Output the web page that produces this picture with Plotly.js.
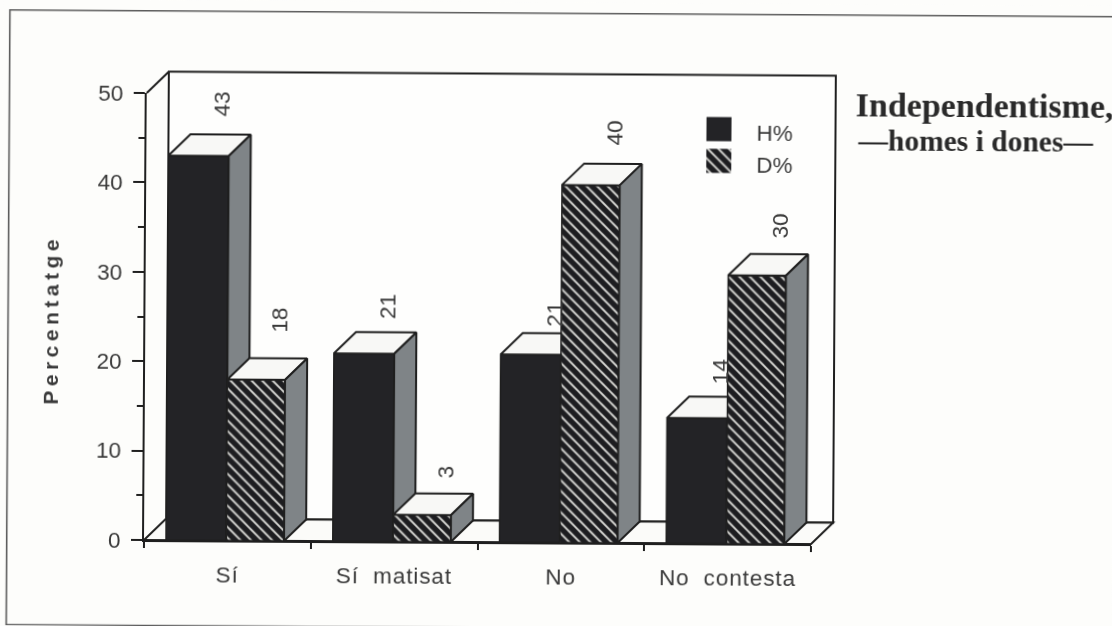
<!DOCTYPE html>
<html><head><meta charset="utf-8">
<script src="https://cdn.plot.ly/plotly-3.0.1.min.js"></script>
<style>
html,body{margin:0;padding:0;width:1112px;height:626px;overflow:hidden;background:#fdfdfb}
#chart{width:1112px;height:626px;transform-origin:144px 540px;transform:rotate(0.35deg);filter:blur(0.45px)}
.xtick text{letter-spacing:0.9px;word-spacing:7px}
</style></head><body><div id="chart"></div>
<script>
// Data
const categories = ["Sí", "Sí matisat", "No", "No contesta"];
const seriesH = [43, 21, 21, 14];
const seriesD = [18, 3, 40, 30];
const nameH = "H%", nameD = "D%";
const yTicks = [0, 10, 20, 30, 40, 50];
const titleMain = "Independentisme,";
const titleSub = "—homes i dones—";
const yTitle = "Percentatge";

// Layout constants (pixels of the front plane)
const L = 144, T = 93, R = 811, B = 540;
const W = R - L, H = B - T;
const pxPerX = W / 4, pxPerY = H / 50;
const depthX = 22 / pxPerX, depthY = 21.5 / pxPerY;
const barStart = 0.132, widthH = 0.362, widthD = 0.346;
const ink = "#1f1f1f", dark = "#232326", sideGrey = "#7f8487", topWhite = "#f8f8f6";
const pattern = {shape: "\\", fgcolor: "#dcdcd8", bgcolor: "#1d1d20", size: 7.5, solidity: 0.25};
const liftH = [52, 47, 40, 47], liftD = [60, 43, 52, 50];

const xH = categories.map((c, i) => i + barStart + widthH / 2);
const xD = categories.map((c, i) => i + barStart + widthH + widthD / 2);
const px = v => (v - L) / W, py = v => (B - v) / H;

function faces(xc, w, vals, ax, ay) {
  const out = [];
  vals.forEach((v, i) => {
    const a = xc[i] - w / 2, b = xc[i] + w / 2;
    out.push({type: "scatter", mode: "lines", xaxis: ax, yaxis: ay, cliponaxis: false, hoverinfo: "skip", showlegend: false,
      x: [a, a + depthX, b + depthX, b, a], y: [v, v + depthY, v + depthY, v, v],
      fill: "toself", fillcolor: topWhite, line: {color: ink, width: 2}});
    out.push({type: "scatter", mode: "lines", xaxis: ax, yaxis: ay, cliponaxis: false, hoverinfo: "skip", showlegend: false,
      x: [b, b + depthX, b + depthX, b, b], y: [v, v + depthY, depthY, 0, v],
      fill: "toself", fillcolor: sideGrey, line: {color: ink, width: 2}});
  });
  return out;
}

const barLine = {color: ink, width: 1.5};
const traces = [
  {type: "bar", name: nameH, x: xH, y: seriesH, width: widthH, marker: {color: dark, line: barLine}, cliponaxis: false},
  {type: "bar", name: nameH + " llegenda", x: [3.433], y: [2.7], base: [45.0], width: 0.15, marker: {color: dark, line: {color: dark, width: 0}}, hoverinfo: "skip"},
  ...faces(xH, widthH, seriesH, "x", "y"),
  {type: "bar", name: nameD, xaxis: "x2", yaxis: "y2", x: xD, y: seriesD, width: widthD, marker: {color: "#1d1d20", pattern: pattern, line: barLine}, cliponaxis: false},
  {type: "bar", name: nameD + " llegenda", xaxis: "x2", yaxis: "y2", x: [3.433], y: [2.7], base: [41.45], width: 0.15, marker: {color: "#1d1d20", pattern: pattern, line: {color: dark, width: 0}}, hoverinfo: "skip"},
  ...faces(xD, widthD, seriesD, "x2", "y2")
];

const annFont = {family: "Liberation Sans, Arial, sans-serif", size: 22.5, color: "#3a3a3a"};
const valueAnn = (xs, vals, lifts) => vals.map((v, i) => ({
  xref: "x", yref: "y", x: xs[i] + 0.14, y: v + lifts[i] / pxPerY, text: String(v),
  textangle: -90, showarrow: false, xanchor: "center", yanchor: "middle", font: annFont
}));
const paperAnn = (x, y, text, font, anchor, extra) => Object.assign({
  xref: "paper", yref: "paper", x: px(x), y: py(y), text, showarrow: false,
  xanchor: anchor, yanchor: "middle", font
}, extra || {});

const annotations = [
  ...valueAnn(xH, seriesH, liftH),
  ...valueAnn(xD, seriesD, liftD),
  paperAnn(751.5, 129.5, nameH, annFont, "left"),
  paperAnn(751.5, 161.5, nameD, annFont, "left"),
  paperAnn(49, 320.5, yTitle, {family: "Liberation Sans, Arial, sans-serif", size: 21, color: "#3a3a3a", weight: 700}, "center", {textangle: -90}),
  paperAnn(981.5, 100, titleMain, {family: "Liberation Serif, Times New Roman, serif", size: 34, color: "#2a2a2a", weight: 700}, "center"),
  paperAnn(973, 135.5, titleSub, {family: "Liberation Serif, Times New Roman, serif", size: 29.5, color: "#2a2a2a", weight: 700}, "center")
];

const dpx = depthX * pxPerX, dpy = depthY * pxPerY;
const wallPath = `M${px(L + dpx)},${py(B - dpy)} L${px(L + dpx)},${py(T - dpy)} L${px(R + dpx)},${py(T - dpy)} L${px(R + dpx)},${py(B - dpy)} Z`;
const floorPath = `M${px(L)},${py(B)} L${px(L + dpx)},${py(B - dpy)} L${px(R + dpx)},${py(B - dpy)} L${px(R)},${py(B)} Z`;
const sidePath = `M${px(L)},${py(T)} L${px(L + dpx)},${py(T - dpy)}`;
const framePath = `M${px(1130)},${py(10.8)} L${px(6.7)},${py(10.8)} L${px(6.7)},${py(625.6)} L${px(1130)},${py(625.6)}`;
const sh = (path, fill, w, c) => ({type: "path", xref: "paper", yref: "paper", path, fillcolor: fill, layer: "below", line: {color: c || ink, width: w}});

const tickFont = {family: "Liberation Sans, Arial, sans-serif", size: 22.5, color: "#3a3a3a"};
const layout = {
  width: 1112, height: 626, showlegend: false, barmode: "overlay",
  paper_bgcolor: "#fdfdfb", plot_bgcolor: "rgba(0,0,0,0)",
  margin: {l: L, r: 1112 - R, t: T, b: 626 - B, pad: 0},
  xaxis: {range: [0, 4], showgrid: false, zeroline: false, showline: true, linecolor: ink, linewidth: 2,
    tickmode: "array", tickvals: categories.map((c, i) => i + 0.5), ticktext: categories,
    ticks: "outside", ticklen: 13, tickcolor: "rgba(0,0,0,0)", tickfont: tickFont,
    minor: {tickmode: "array", tickvals: [0, 1, 2, 3, 4], ticks: "outside", ticklen: 6, tickwidth: 2, tickcolor: ink}},
  yaxis: {range: [0, 50], showgrid: false, zeroline: false, showline: true, linecolor: ink, linewidth: 2,
    tickmode: "array", tickvals: yTicks, ticks: "outside", ticklen: 11, tickwidth: 2, tickcolor: ink, tickfont: tickFont, ticklabelstandoff: 6,
    minor: {dtick: 5, tick0: 0, ticks: "outside", ticklen: 6, tickwidth: 2, tickcolor: ink}},
  xaxis2: {overlaying: "x", range: [0, 4], visible: false},
  yaxis2: {overlaying: "y", range: [0, 50], visible: false},
  shapes: [
    sh(framePath, "rgba(0,0,0,0)", 1.6, "#5c5c5c"),
    sh(wallPath, "#fefefd", 2),
    sh(floorPath, "#fbfbf9", 2),
    sh(sidePath, "rgba(0,0,0,0)", 2)
  ],
  annotations
};

Plotly.newPlot("chart", traces, layout, {displayModeBar: false, responsive: false}).then(gd => {
  gd.querySelectorAll(".annotation-text").forEach(t => {
    if (t.textContent === yTitle) t.style.letterSpacing = "4.5px";
  });
});
</script></body></html>
